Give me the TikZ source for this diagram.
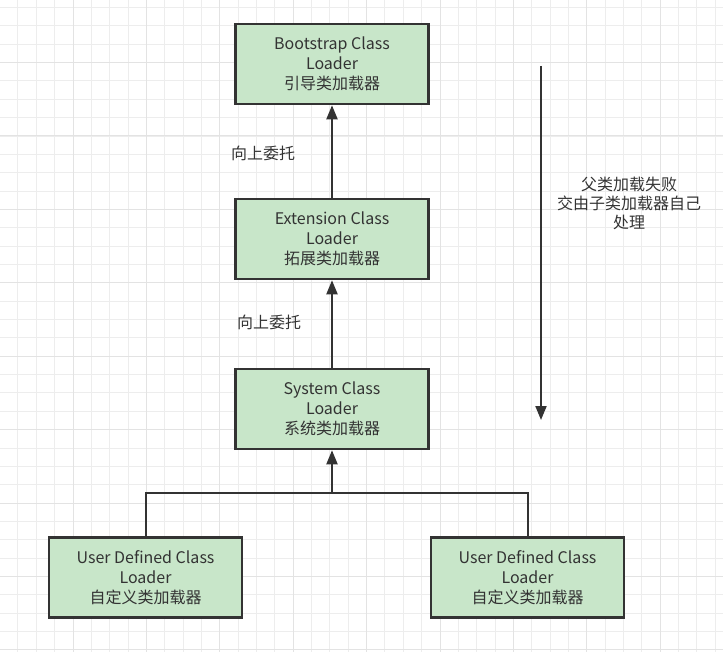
\documentclass[tikz,border=0pt]{standalone}
\usepackage{fontspec}
\setmainfont{Noto Sans CJK SC}
\usetikzlibrary{arrows.meta}
\definecolor{loaderfill}{RGB}{200,230,201}
\definecolor{ink}{RGB}{51,51,51}

\begin{document}
\begin{tikzpicture}[x=1pt,y=-1pt,
		loader/.style={draw=ink,line width=2.6pt,fill=loaderfill,
			minimum width=193pt,minimum height=80pt,align=center,text=ink,
			font=\fontsize{16}{20}\selectfont},
		note/.style={text=ink,align=center,font=\fontsize{16}{19}\selectfont},
		link/.style={draw=ink,line width=2pt,-{Triangle[length=14pt,width=11pt]}}]
		\useasboundingbox (0,0) rectangle (723,652);
		% grid
		\foreach \k in {0,...,39} {
			\draw[black!7,line width=0.8pt] (-0.5+18.35*\k,0) -- ++(0,652);
			\draw[black!7,line width=0.8pt] (0,7.5+18.35*\k) -- ++(723,0);
		}
		\foreach \k in {0,...,9} {
			\draw[black!11,line width=0.8pt] (-0.5+73.4*\k,0) -- ++(0,652);
			\draw[black!11,line width=0.8pt] (0,-10.9+73.4*\k) -- ++(723,0);
		}
		\node[loader] (boot) at (332,64) {Bootstrap Class\\Loader\\引导类加载器};
		\node[loader] (ext) at (332,239) {Extension Class\\Loader\\拓展类加载器};
		\node[loader] (sys) at (332,409) {System Class\\Loader\\系统类加载器};
		\node[loader] (userA) at (145.5,577.5) {User Defined Class\\Loader\\自定义类加载器};
		\node[loader] (userB) at (527.5,577.5) {User Defined Class\\Loader\\自定义类加载器};
		\draw[link] (ext) -- (boot);
		\draw[link] (sys) -- (ext);
		\coordinate (join) at (332,493);
		\draw[draw=ink,line width=2pt] (userA.north) |- (join) -| (userB.north);
		\draw[link] (join) -- (sys);
		\node[note] (up1) at (263,153) {向上委托};
		\node[note] (up2) at (269,322) {向上委托};
		\coordinate (top) at (541,66);
		\coordinate (bot) at (541,420);
		\draw[link] (top) -- (bot);
		\node[note] (fail) at (629,203) {父类加载失败\\交由子类加载器自己\\处理};
\end{tikzpicture}
\end{document}
